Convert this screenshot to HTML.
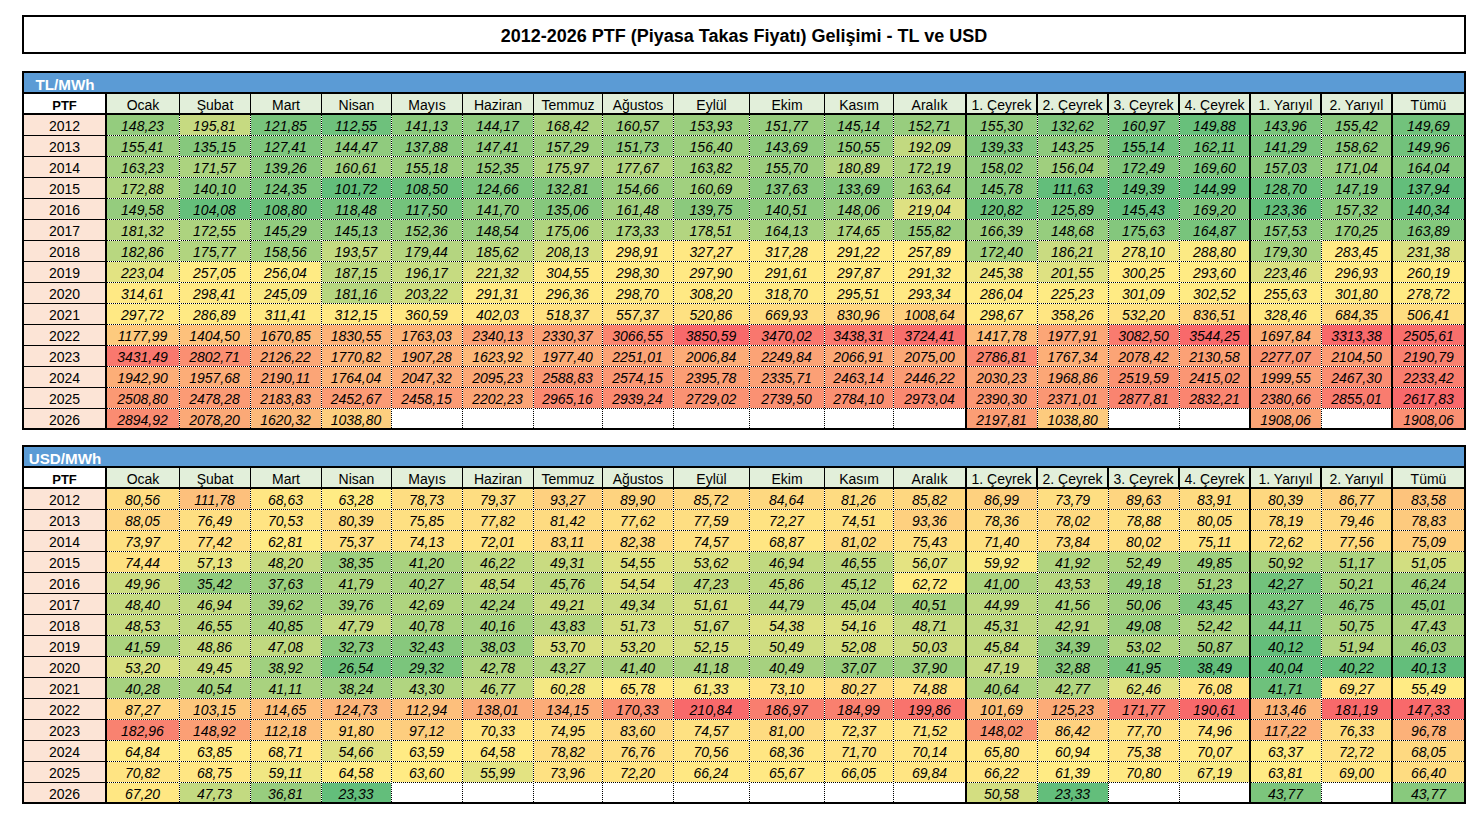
<!DOCTYPE html>
<html lang="tr"><head><meta charset="utf-8"><title>PTF</title><style>
html,body{margin:0;padding:0;background:#fff}
body{width:1482px;height:813px;position:relative;overflow:hidden;font-family:"Liberation Sans",sans-serif;color:#000}
div{position:absolute;box-sizing:border-box;white-space:nowrap;overflow:hidden}
.title{left:22px;top:15px;width:1444px;height:39px;border:2px solid #000;background:#fff;text-align:center;font-weight:bold;font-size:18px;line-height:35px}
.title span{position:relative;top:2px}
.bk{background:#000}
.band{background:#5B9BD5;color:#fff;font-weight:bold;font-size:15.2px;line-height:19px}
.band span{position:absolute;left:0;top:2px;width:82px;text-align:center}
.hc{background:#E2EFDA;text-align:center;font-size:14px;line-height:19px}
.hp{background:#fff;text-align:center;font-weight:bold;font-size:13px;line-height:19px}
.hc span,.hp span{position:relative;top:2px}
.yr{background:#FCE4D6;text-align:center;font-size:14px;line-height:20px}
.yr span{position:relative;top:1px}
.dc{text-align:center;font-style:italic;font-size:14px;line-height:20px}
.dc span{position:relative;top:1px;left:-1px}
.hd{height:1px;background:repeating-linear-gradient(90deg,#000 0 1px,#fff 1px 2px)}
.vd{width:1px;background:repeating-linear-gradient(180deg,#000 0 1px,#fff 1px 2px)}
.vt{width:2px;background:#000}
.ht{height:2px;background:#000}
</style></head>
<body>
<div class="title"><span>2012-2026 PTF (Piyasa Takas Fiyatı) Gelişimi - TL ve USD</span></div>
<div class="bk" style="left:22px;top:71px;width:1444px;height:359px"></div>
<div class="band" style="left:24px;top:73px;width:1440px;height:19px"><span>TL/MWh</span></div>
<div class="hp" style="left:24px;top:94px;width:81px;height:19px"><span>PTF</span></div>
<div class="hc" style="left:107px;top:94px;width:72px;height:19px"><span>Ocak</span></div>
<div class="hc" style="left:180px;top:94px;width:70px;height:19px"><span>Şubat</span></div>
<div class="hc" style="left:251px;top:94px;width:70px;height:19px"><span>Mart</span></div>
<div class="hc" style="left:322px;top:94px;width:69px;height:19px"><span>Nisan</span></div>
<div class="hc" style="left:392px;top:94px;width:70px;height:19px"><span>Mayıs</span></div>
<div class="hc" style="left:463px;top:94px;width:70px;height:19px"><span>Haziran</span></div>
<div class="hc" style="left:534px;top:94px;width:68px;height:19px"><span>Temmuz</span></div>
<div class="hc" style="left:603px;top:94px;width:70px;height:19px"><span>Ağustos</span></div>
<div class="hc" style="left:674px;top:94px;width:75px;height:19px"><span>Eylül</span></div>
<div class="hc" style="left:750px;top:94px;width:74px;height:19px"><span>Ekim</span></div>
<div class="hc" style="left:825px;top:94px;width:68px;height:19px"><span>Kasım</span></div>
<div class="hc" style="left:894px;top:94px;width:71px;height:19px"><span>Aralık</span></div>
<div class="hc" style="left:967px;top:94px;width:69px;height:19px"><span>1. Çeyrek</span></div>
<div class="hc" style="left:1038px;top:94px;width:69px;height:19px"><span>2. Çeyrek</span></div>
<div class="hc" style="left:1109px;top:94px;width:69px;height:19px"><span>3. Çeyrek</span></div>
<div class="hc" style="left:1180px;top:94px;width:69px;height:19px"><span>4. Çeyrek</span></div>
<div class="hc" style="left:1251px;top:94px;width:69px;height:19px"><span>1. Yarıyıl</span></div>
<div class="hc" style="left:1322px;top:94px;width:69px;height:19px"><span>2. Yarıyıl</span></div>
<div class="hc" style="left:1393px;top:94px;width:71px;height:19px"><span>Tümü</span></div>
<div class="yr" style="left:24px;top:115px;width:81px;height:20px"><span>2012</span></div>
<div class="dc" style="left:107px;top:115px;width:73px;height:21px;background:#94CC7E"><span>148,23</span></div>
<div class="dc" style="left:180px;top:115px;width:71px;height:21px;background:#C6DA81"><span>195,81</span></div>
<div class="dc" style="left:251px;top:115px;width:71px;height:21px;background:#78C47C"><span>121,85</span></div>
<div class="dc" style="left:322px;top:115px;width:70px;height:21px;background:#6EC17C"><span>112,55</span></div>
<div class="dc" style="left:392px;top:115px;width:71px;height:21px;background:#8CCA7D"><span>141,13</span></div>
<div class="dc" style="left:463px;top:115px;width:71px;height:21px;background:#8FCB7E"><span>144,17</span></div>
<div class="dc" style="left:534px;top:115px;width:69px;height:21px;background:#A9D27F"><span>168,42</span></div>
<div class="dc" style="left:603px;top:115px;width:71px;height:21px;background:#A1D07F"><span>160,57</span></div>
<div class="dc" style="left:674px;top:115px;width:76px;height:21px;background:#9ACE7E"><span>153,93</span></div>
<div class="dc" style="left:750px;top:115px;width:75px;height:21px;background:#97CD7E"><span>151,77</span></div>
<div class="dc" style="left:825px;top:115px;width:69px;height:21px;background:#91CB7E"><span>145,14</span></div>
<div class="dc" style="left:894px;top:115px;width:73px;height:21px;background:#98CD7E"><span>152,71</span></div>
<div class="dc" style="left:967px;top:115px;width:71px;height:21px;background:#90CB7E"><span>155,30</span></div>
<div class="dc" style="left:1038px;top:115px;width:71px;height:21px;background:#80C67D"><span>132,62</span></div>
<div class="dc" style="left:1109px;top:115px;width:71px;height:21px;background:#74C37C"><span>160,97</span></div>
<div class="dc" style="left:1180px;top:115px;width:71px;height:21px;background:#68C07B"><span>149,88</span></div>
<div class="dc" style="left:1251px;top:115px;width:71px;height:21px;background:#7BC57C"><span>143,96</span></div>
<div class="dc" style="left:1322px;top:115px;width:71px;height:21px;background:#89C97D"><span>155,42</span></div>
<div class="dc" style="left:1393px;top:115px;width:73px;height:21px;background:#72C27C"><span>149,69</span></div>
<div class="yr" style="left:24px;top:136px;width:81px;height:20px"><span>2013</span></div>
<div class="dc" style="left:107px;top:136px;width:73px;height:21px;background:#9BCE7E"><span>155,41</span></div>
<div class="dc" style="left:180px;top:136px;width:71px;height:21px;background:#86C87D"><span>135,15</span></div>
<div class="dc" style="left:251px;top:136px;width:71px;height:21px;background:#7EC67D"><span>127,41</span></div>
<div class="dc" style="left:322px;top:136px;width:70px;height:21px;background:#90CB7E"><span>144,47</span></div>
<div class="dc" style="left:392px;top:136px;width:71px;height:21px;background:#89C97D"><span>137,88</span></div>
<div class="dc" style="left:463px;top:136px;width:71px;height:21px;background:#93CC7E"><span>147,41</span></div>
<div class="dc" style="left:534px;top:136px;width:69px;height:21px;background:#9DCF7E"><span>157,29</span></div>
<div class="dc" style="left:603px;top:136px;width:71px;height:21px;background:#97CD7E"><span>151,73</span></div>
<div class="dc" style="left:674px;top:136px;width:76px;height:21px;background:#9CCF7E"><span>156,40</span></div>
<div class="dc" style="left:750px;top:136px;width:75px;height:21px;background:#8FCB7E"><span>143,69</span></div>
<div class="dc" style="left:825px;top:136px;width:69px;height:21px;background:#96CD7E"><span>150,55</span></div>
<div class="dc" style="left:894px;top:136px;width:73px;height:21px;background:#C2D980"><span>192,09</span></div>
<div class="dc" style="left:967px;top:136px;width:71px;height:21px;background:#80C67D"><span>139,33</span></div>
<div class="dc" style="left:1038px;top:136px;width:71px;height:21px;background:#8ECA7D"><span>143,25</span></div>
<div class="dc" style="left:1109px;top:136px;width:71px;height:21px;background:#6EC17C"><span>155,14</span></div>
<div class="dc" style="left:1180px;top:136px;width:71px;height:21px;background:#75C37C"><span>162,11</span></div>
<div class="dc" style="left:1251px;top:136px;width:71px;height:21px;background:#78C47C"><span>141,29</span></div>
<div class="dc" style="left:1322px;top:136px;width:71px;height:21px;background:#8DCA7D"><span>158,62</span></div>
<div class="dc" style="left:1393px;top:136px;width:73px;height:21px;background:#72C27C"><span>149,96</span></div>
<div class="yr" style="left:24px;top:157px;width:81px;height:20px"><span>2014</span></div>
<div class="dc" style="left:107px;top:157px;width:73px;height:21px;background:#A3D17F"><span>163,23</span></div>
<div class="dc" style="left:180px;top:157px;width:71px;height:21px;background:#ACD37F"><span>171,57</span></div>
<div class="dc" style="left:251px;top:157px;width:71px;height:21px;background:#8AC97D"><span>139,26</span></div>
<div class="dc" style="left:322px;top:157px;width:70px;height:21px;background:#A1D07F"><span>160,61</span></div>
<div class="dc" style="left:392px;top:157px;width:71px;height:21px;background:#9BCE7E"><span>155,18</span></div>
<div class="dc" style="left:463px;top:157px;width:71px;height:21px;background:#98CD7E"><span>152,35</span></div>
<div class="dc" style="left:534px;top:157px;width:69px;height:21px;background:#B1D47F"><span>175,97</span></div>
<div class="dc" style="left:603px;top:157px;width:71px;height:21px;background:#B3D580"><span>177,67</span></div>
<div class="dc" style="left:674px;top:157px;width:76px;height:21px;background:#A4D17F"><span>163,82</span></div>
<div class="dc" style="left:750px;top:157px;width:75px;height:21px;background:#9CCE7E"><span>155,70</span></div>
<div class="dc" style="left:825px;top:157px;width:69px;height:21px;background:#B6D680"><span>180,89</span></div>
<div class="dc" style="left:894px;top:157px;width:73px;height:21px;background:#ADD37F"><span>172,19</span></div>
<div class="dc" style="left:967px;top:157px;width:71px;height:21px;background:#93CC7E"><span>158,02</span></div>
<div class="dc" style="left:1038px;top:157px;width:71px;height:21px;background:#A0CF7E"><span>156,04</span></div>
<div class="dc" style="left:1109px;top:157px;width:71px;height:21px;background:#80C67D"><span>172,49</span></div>
<div class="dc" style="left:1180px;top:157px;width:71px;height:21px;background:#7DC67D"><span>169,60</span></div>
<div class="dc" style="left:1251px;top:157px;width:71px;height:21px;background:#8BC97D"><span>157,03</span></div>
<div class="dc" style="left:1322px;top:157px;width:71px;height:21px;background:#9BCE7E"><span>171,04</span></div>
<div class="dc" style="left:1393px;top:157px;width:73px;height:21px;background:#84C87D"><span>164,04</span></div>
<div class="yr" style="left:24px;top:178px;width:81px;height:20px"><span>2015</span></div>
<div class="dc" style="left:107px;top:178px;width:73px;height:21px;background:#AED47F"><span>172,88</span></div>
<div class="dc" style="left:180px;top:178px;width:71px;height:21px;background:#8BCA7D"><span>140,10</span></div>
<div class="dc" style="left:251px;top:178px;width:71px;height:21px;background:#7BC57C"><span>124,35</span></div>
<div class="dc" style="left:322px;top:178px;width:70px;height:21px;background:#63BE7B"><span>101,72</span></div>
<div class="dc" style="left:392px;top:178px;width:71px;height:21px;background:#6AC07B"><span>108,50</span></div>
<div class="dc" style="left:463px;top:178px;width:71px;height:21px;background:#7BC57C"><span>124,66</span></div>
<div class="dc" style="left:534px;top:178px;width:69px;height:21px;background:#84C77D"><span>132,81</span></div>
<div class="dc" style="left:603px;top:178px;width:71px;height:21px;background:#9ACE7E"><span>154,66</span></div>
<div class="dc" style="left:674px;top:178px;width:76px;height:21px;background:#A1D07F"><span>160,69</span></div>
<div class="dc" style="left:750px;top:178px;width:75px;height:21px;background:#89C97D"><span>137,63</span></div>
<div class="dc" style="left:825px;top:178px;width:69px;height:21px;background:#85C87D"><span>133,69</span></div>
<div class="dc" style="left:894px;top:178px;width:73px;height:21px;background:#A4D17F"><span>163,64</span></div>
<div class="dc" style="left:967px;top:178px;width:71px;height:21px;background:#86C87D"><span>145,78</span></div>
<div class="dc" style="left:1038px;top:178px;width:71px;height:21px;background:#63BE7B"><span>111,63</span></div>
<div class="dc" style="left:1109px;top:178px;width:71px;height:21px;background:#68BF7B"><span>149,39</span></div>
<div class="dc" style="left:1180px;top:178px;width:71px;height:21px;background:#63BE7B"><span>144,99</span></div>
<div class="dc" style="left:1251px;top:178px;width:71px;height:21px;background:#69C07B"><span>128,70</span></div>
<div class="dc" style="left:1322px;top:178px;width:71px;height:21px;background:#7FC67D"><span>147,19</span></div>
<div class="dc" style="left:1393px;top:178px;width:73px;height:21px;background:#63BE7B"><span>137,94</span></div>
<div class="yr" style="left:24px;top:199px;width:81px;height:20px"><span>2016</span></div>
<div class="dc" style="left:107px;top:199px;width:73px;height:21px;background:#95CC7E"><span>149,58</span></div>
<div class="dc" style="left:180px;top:199px;width:71px;height:21px;background:#65BF7B"><span>104,08</span></div>
<div class="dc" style="left:251px;top:199px;width:71px;height:21px;background:#6AC07B"><span>108,80</span></div>
<div class="dc" style="left:322px;top:199px;width:70px;height:21px;background:#75C37C"><span>118,48</span></div>
<div class="dc" style="left:392px;top:199px;width:71px;height:21px;background:#74C37C"><span>117,50</span></div>
<div class="dc" style="left:463px;top:199px;width:71px;height:21px;background:#8DCA7D"><span>141,70</span></div>
<div class="dc" style="left:534px;top:199px;width:69px;height:21px;background:#86C87D"><span>135,06</span></div>
<div class="dc" style="left:603px;top:199px;width:71px;height:21px;background:#A2D07F"><span>161,48</span></div>
<div class="dc" style="left:674px;top:199px;width:76px;height:21px;background:#8BC97D"><span>139,75</span></div>
<div class="dc" style="left:750px;top:199px;width:75px;height:21px;background:#8CCA7D"><span>140,51</span></div>
<div class="dc" style="left:825px;top:199px;width:69px;height:21px;background:#94CC7E"><span>148,06</span></div>
<div class="dc" style="left:894px;top:199px;width:73px;height:21px;background:#DEE182"><span>219,04</span></div>
<div class="dc" style="left:967px;top:199px;width:71px;height:21px;background:#6DC17C"><span>120,82</span></div>
<div class="dc" style="left:1038px;top:199px;width:71px;height:21px;background:#76C47C"><span>125,89</span></div>
<div class="dc" style="left:1109px;top:199px;width:71px;height:21px;background:#63BE7B"><span>145,43</span></div>
<div class="dc" style="left:1180px;top:199px;width:71px;height:21px;background:#7DC57C"><span>169,20</span></div>
<div class="dc" style="left:1251px;top:199px;width:71px;height:21px;background:#63BE7B"><span>123,36</span></div>
<div class="dc" style="left:1322px;top:199px;width:71px;height:21px;background:#8BCA7D"><span>157,32</span></div>
<div class="dc" style="left:1393px;top:199px;width:73px;height:21px;background:#66BF7B"><span>140,34</span></div>
<div class="yr" style="left:24px;top:220px;width:81px;height:20px"><span>2017</span></div>
<div class="dc" style="left:107px;top:220px;width:73px;height:21px;background:#B6D680"><span>181,32</span></div>
<div class="dc" style="left:180px;top:220px;width:71px;height:21px;background:#ADD37F"><span>172,55</span></div>
<div class="dc" style="left:251px;top:220px;width:71px;height:21px;background:#91CB7E"><span>145,29</span></div>
<div class="dc" style="left:322px;top:220px;width:70px;height:21px;background:#90CB7E"><span>145,13</span></div>
<div class="dc" style="left:392px;top:220px;width:71px;height:21px;background:#98CD7E"><span>152,36</span></div>
<div class="dc" style="left:463px;top:220px;width:71px;height:21px;background:#94CC7E"><span>148,54</span></div>
<div class="dc" style="left:534px;top:220px;width:69px;height:21px;background:#B0D47F"><span>175,06</span></div>
<div class="dc" style="left:603px;top:220px;width:71px;height:21px;background:#AED47F"><span>173,33</span></div>
<div class="dc" style="left:674px;top:220px;width:76px;height:21px;background:#B3D580"><span>178,51</span></div>
<div class="dc" style="left:750px;top:220px;width:75px;height:21px;background:#A4D17F"><span>164,13</span></div>
<div class="dc" style="left:825px;top:220px;width:69px;height:21px;background:#AFD47F"><span>174,65</span></div>
<div class="dc" style="left:894px;top:220px;width:73px;height:21px;background:#9CCE7E"><span>155,82</span></div>
<div class="dc" style="left:967px;top:220px;width:71px;height:21px;background:#9CCE7E"><span>166,39</span></div>
<div class="dc" style="left:1038px;top:220px;width:71px;height:21px;background:#96CD7E"><span>148,68</span></div>
<div class="dc" style="left:1109px;top:220px;width:71px;height:21px;background:#84C77D"><span>175,63</span></div>
<div class="dc" style="left:1180px;top:220px;width:71px;height:21px;background:#78C47C"><span>164,87</span></div>
<div class="dc" style="left:1251px;top:220px;width:71px;height:21px;background:#8BCA7D"><span>157,53</span></div>
<div class="dc" style="left:1322px;top:220px;width:71px;height:21px;background:#9ACE7E"><span>170,25</span></div>
<div class="dc" style="left:1393px;top:220px;width:73px;height:21px;background:#84C87D"><span>163,89</span></div>
<div class="yr" style="left:24px;top:241px;width:81px;height:20px"><span>2018</span></div>
<div class="dc" style="left:107px;top:241px;width:73px;height:21px;background:#B8D780"><span>182,86</span></div>
<div class="dc" style="left:180px;top:241px;width:71px;height:21px;background:#B1D47F"><span>175,77</span></div>
<div class="dc" style="left:251px;top:241px;width:71px;height:21px;background:#9FCF7E"><span>158,56</span></div>
<div class="dc" style="left:322px;top:241px;width:70px;height:21px;background:#C3DA81"><span>193,57</span></div>
<div class="dc" style="left:392px;top:241px;width:71px;height:21px;background:#B4D580"><span>179,44</span></div>
<div class="dc" style="left:463px;top:241px;width:71px;height:21px;background:#BBD780"><span>185,62</span></div>
<div class="dc" style="left:534px;top:241px;width:69px;height:21px;background:#D3DE81"><span>208,13</span></div>
<div class="dc" style="left:603px;top:241px;width:71px;height:21px;background:#FFE984"><span>298,91</span></div>
<div class="dc" style="left:674px;top:241px;width:76px;height:21px;background:#FFE883"><span>327,27</span></div>
<div class="dc" style="left:750px;top:241px;width:75px;height:21px;background:#FFE984"><span>317,28</span></div>
<div class="dc" style="left:825px;top:241px;width:69px;height:21px;background:#FFEA84"><span>291,22</span></div>
<div class="dc" style="left:894px;top:241px;width:73px;height:21px;background:#FFEB84"><span>257,89</span></div>
<div class="dc" style="left:967px;top:241px;width:71px;height:21px;background:#A2D07F"><span>172,40</span></div>
<div class="dc" style="left:1038px;top:241px;width:71px;height:21px;background:#C9DB81"><span>186,21</span></div>
<div class="dc" style="left:1109px;top:241px;width:71px;height:21px;background:#F1E783"><span>278,10</span></div>
<div class="dc" style="left:1180px;top:241px;width:71px;height:21px;background:#FCEA84"><span>288,80</span></div>
<div class="dc" style="left:1251px;top:241px;width:71px;height:21px;background:#A5D17F"><span>179,30</span></div>
<div class="dc" style="left:1322px;top:241px;width:71px;height:21px;background:#FFEA84"><span>283,45</span></div>
<div class="dc" style="left:1393px;top:241px;width:73px;height:21px;background:#DAE082"><span>231,38</span></div>
<div class="yr" style="left:24px;top:262px;width:81px;height:20px"><span>2019</span></div>
<div class="dc" style="left:107px;top:262px;width:73px;height:21px;background:#E2E382"><span>223,04</span></div>
<div class="dc" style="left:180px;top:262px;width:71px;height:21px;background:#FFEB84"><span>257,05</span></div>
<div class="dc" style="left:251px;top:262px;width:71px;height:21px;background:#FFEB84"><span>256,04</span></div>
<div class="dc" style="left:322px;top:262px;width:70px;height:21px;background:#BDD880"><span>187,15</span></div>
<div class="dc" style="left:392px;top:262px;width:71px;height:21px;background:#C6DB81"><span>196,17</span></div>
<div class="dc" style="left:463px;top:262px;width:71px;height:21px;background:#E0E282"><span>221,32</span></div>
<div class="dc" style="left:534px;top:262px;width:69px;height:21px;background:#FFE984"><span>304,55</span></div>
<div class="dc" style="left:603px;top:262px;width:71px;height:21px;background:#FFE984"><span>298,30</span></div>
<div class="dc" style="left:674px;top:262px;width:76px;height:21px;background:#FFE984"><span>297,90</span></div>
<div class="dc" style="left:750px;top:262px;width:75px;height:21px;background:#FFEA84"><span>291,61</span></div>
<div class="dc" style="left:825px;top:262px;width:69px;height:21px;background:#FFE984"><span>297,87</span></div>
<div class="dc" style="left:894px;top:262px;width:73px;height:21px;background:#FFEA84"><span>291,32</span></div>
<div class="dc" style="left:967px;top:262px;width:71px;height:21px;background:#EEE683"><span>245,38</span></div>
<div class="dc" style="left:1038px;top:262px;width:71px;height:21px;background:#DEE182"><span>201,55</span></div>
<div class="dc" style="left:1109px;top:262px;width:71px;height:21px;background:#FFEB84"><span>300,25</span></div>
<div class="dc" style="left:1180px;top:262px;width:71px;height:21px;background:#FFEB84"><span>293,60</span></div>
<div class="dc" style="left:1251px;top:262px;width:71px;height:21px;background:#D9E082"><span>223,46</span></div>
<div class="dc" style="left:1322px;top:262px;width:71px;height:21px;background:#FFE984"><span>296,93</span></div>
<div class="dc" style="left:1393px;top:262px;width:73px;height:21px;background:#FFEB84"><span>260,19</span></div>
<div class="yr" style="left:24px;top:283px;width:81px;height:20px"><span>2020</span></div>
<div class="dc" style="left:107px;top:283px;width:73px;height:21px;background:#FFE984"><span>314,61</span></div>
<div class="dc" style="left:180px;top:283px;width:71px;height:21px;background:#FFE984"><span>298,41</span></div>
<div class="dc" style="left:251px;top:283px;width:71px;height:21px;background:#F9E984"><span>245,09</span></div>
<div class="dc" style="left:322px;top:283px;width:70px;height:21px;background:#B6D680"><span>181,16</span></div>
<div class="dc" style="left:392px;top:283px;width:71px;height:21px;background:#CDDD81"><span>203,22</span></div>
<div class="dc" style="left:463px;top:283px;width:71px;height:21px;background:#FFEA84"><span>291,31</span></div>
<div class="dc" style="left:534px;top:283px;width:69px;height:21px;background:#FFE984"><span>296,36</span></div>
<div class="dc" style="left:603px;top:283px;width:71px;height:21px;background:#FFE984"><span>298,70</span></div>
<div class="dc" style="left:674px;top:283px;width:76px;height:21px;background:#FFE984"><span>308,20</span></div>
<div class="dc" style="left:750px;top:283px;width:75px;height:21px;background:#FFE984"><span>318,70</span></div>
<div class="dc" style="left:825px;top:283px;width:69px;height:21px;background:#FFE984"><span>295,51</span></div>
<div class="dc" style="left:894px;top:283px;width:73px;height:21px;background:#FFE984"><span>293,34</span></div>
<div class="dc" style="left:967px;top:283px;width:71px;height:21px;background:#FFEA84"><span>286,04</span></div>
<div class="dc" style="left:1038px;top:283px;width:71px;height:21px;background:#FEEB84"><span>225,23</span></div>
<div class="dc" style="left:1109px;top:283px;width:71px;height:21px;background:#FFEB84"><span>301,09</span></div>
<div class="dc" style="left:1180px;top:283px;width:71px;height:21px;background:#FFEB84"><span>302,52</span></div>
<div class="dc" style="left:1251px;top:283px;width:71px;height:21px;background:#FFEB84"><span>255,63</span></div>
<div class="dc" style="left:1322px;top:283px;width:71px;height:21px;background:#FFE984"><span>301,80</span></div>
<div class="dc" style="left:1393px;top:283px;width:73px;height:21px;background:#FFEA84"><span>278,72</span></div>
<div class="yr" style="left:24px;top:304px;width:81px;height:20px"><span>2021</span></div>
<div class="dc" style="left:107px;top:304px;width:73px;height:21px;background:#FFE984"><span>297,72</span></div>
<div class="dc" style="left:180px;top:304px;width:71px;height:21px;background:#FFEA84"><span>286,89</span></div>
<div class="dc" style="left:251px;top:304px;width:71px;height:21px;background:#FFE984"><span>311,41</span></div>
<div class="dc" style="left:322px;top:304px;width:70px;height:21px;background:#FFE984"><span>312,15</span></div>
<div class="dc" style="left:392px;top:304px;width:71px;height:21px;background:#FFE783"><span>360,59</span></div>
<div class="dc" style="left:463px;top:304px;width:71px;height:21px;background:#FFE683"><span>402,03</span></div>
<div class="dc" style="left:534px;top:304px;width:69px;height:21px;background:#FEE182"><span>518,37</span></div>
<div class="dc" style="left:603px;top:304px;width:71px;height:21px;background:#FEE082"><span>557,37</span></div>
<div class="dc" style="left:674px;top:304px;width:76px;height:21px;background:#FEE182"><span>520,86</span></div>
<div class="dc" style="left:750px;top:304px;width:75px;height:21px;background:#FEDC81"><span>669,93</span></div>
<div class="dc" style="left:825px;top:304px;width:69px;height:21px;background:#FED680"><span>830,96</span></div>
<div class="dc" style="left:894px;top:304px;width:73px;height:21px;background:#FED07F"><span>1008,64</span></div>
<div class="dc" style="left:967px;top:304px;width:71px;height:21px;background:#FFEA84"><span>298,67</span></div>
<div class="dc" style="left:1038px;top:304px;width:71px;height:21px;background:#FFE683"><span>358,26</span></div>
<div class="dc" style="left:1109px;top:304px;width:71px;height:21px;background:#FEE182"><span>532,20</span></div>
<div class="dc" style="left:1180px;top:304px;width:71px;height:21px;background:#FED580"><span>836,51</span></div>
<div class="dc" style="left:1251px;top:304px;width:71px;height:21px;background:#FFE883"><span>328,46</span></div>
<div class="dc" style="left:1322px;top:304px;width:71px;height:21px;background:#FED980"><span>684,35</span></div>
<div class="dc" style="left:1393px;top:304px;width:73px;height:21px;background:#FEDD81"><span>506,41</span></div>
<div class="yr" style="left:24px;top:325px;width:81px;height:20px"><span>2022</span></div>
<div class="dc" style="left:107px;top:325px;width:73px;height:21px;background:#FDCA7E"><span>1177,99</span></div>
<div class="dc" style="left:180px;top:325px;width:71px;height:21px;background:#FDC17C"><span>1404,50</span></div>
<div class="dc" style="left:251px;top:325px;width:71px;height:21px;background:#FCB87A"><span>1670,85</span></div>
<div class="dc" style="left:322px;top:325px;width:70px;height:21px;background:#FCB279"><span>1830,55</span></div>
<div class="dc" style="left:392px;top:325px;width:71px;height:21px;background:#FCB479"><span>1763,03</span></div>
<div class="dc" style="left:463px;top:325px;width:71px;height:21px;background:#FBA075"><span>2340,13</span></div>
<div class="dc" style="left:534px;top:325px;width:69px;height:21px;background:#FBA076"><span>2330,37</span></div>
<div class="dc" style="left:603px;top:325px;width:71px;height:21px;background:#FA8570"><span>3066,55</span></div>
<div class="dc" style="left:674px;top:325px;width:76px;height:21px;background:#F8696B"><span>3850,59</span></div>
<div class="dc" style="left:750px;top:325px;width:75px;height:21px;background:#F9776E"><span>3470,02</span></div>
<div class="dc" style="left:825px;top:325px;width:69px;height:21px;background:#F9786E"><span>3438,31</span></div>
<div class="dc" style="left:894px;top:325px;width:73px;height:21px;background:#F86E6C"><span>3724,41</span></div>
<div class="dc" style="left:967px;top:325px;width:71px;height:21px;background:#FDBD7B"><span>1417,78</span></div>
<div class="dc" style="left:1038px;top:325px;width:71px;height:21px;background:#FBA677"><span>1977,91</span></div>
<div class="dc" style="left:1109px;top:325px;width:71px;height:21px;background:#F97B6F"><span>3082,50</span></div>
<div class="dc" style="left:1180px;top:325px;width:71px;height:21px;background:#F8696B"><span>3544,25</span></div>
<div class="dc" style="left:1251px;top:325px;width:71px;height:21px;background:#FCAE78"><span>1697,84</span></div>
<div class="dc" style="left:1322px;top:325px;width:71px;height:21px;background:#F8696B"><span>3313,38</span></div>
<div class="dc" style="left:1393px;top:325px;width:73px;height:21px;background:#F86F6C"><span>2505,61</span></div>
<div class="yr" style="left:24px;top:346px;width:81px;height:20px"><span>2023</span></div>
<div class="dc" style="left:107px;top:346px;width:73px;height:21px;background:#F9786E"><span>3431,49</span></div>
<div class="dc" style="left:180px;top:346px;width:71px;height:21px;background:#FA8F72"><span>2802,71</span></div>
<div class="dc" style="left:251px;top:346px;width:71px;height:21px;background:#FBA777"><span>2126,22</span></div>
<div class="dc" style="left:322px;top:346px;width:70px;height:21px;background:#FCB479"><span>1770,82</span></div>
<div class="dc" style="left:392px;top:346px;width:71px;height:21px;background:#FCAF78"><span>1907,28</span></div>
<div class="dc" style="left:463px;top:346px;width:71px;height:21px;background:#FCB97A"><span>1623,92</span></div>
<div class="dc" style="left:534px;top:346px;width:69px;height:21px;background:#FCAD78"><span>1977,40</span></div>
<div class="dc" style="left:603px;top:346px;width:71px;height:21px;background:#FBA376"><span>2251,01</span></div>
<div class="dc" style="left:674px;top:346px;width:76px;height:21px;background:#FCAC78"><span>2006,84</span></div>
<div class="dc" style="left:750px;top:346px;width:75px;height:21px;background:#FBA376"><span>2249,84</span></div>
<div class="dc" style="left:825px;top:346px;width:69px;height:21px;background:#FBA977"><span>2066,91</span></div>
<div class="dc" style="left:894px;top:346px;width:73px;height:21px;background:#FBA977"><span>2075,00</span></div>
<div class="dc" style="left:967px;top:346px;width:71px;height:21px;background:#FA8771"><span>2786,81</span></div>
<div class="dc" style="left:1038px;top:346px;width:71px;height:21px;background:#FCAF78"><span>1767,34</span></div>
<div class="dc" style="left:1109px;top:346px;width:71px;height:21px;background:#FBA476"><span>2078,42</span></div>
<div class="dc" style="left:1180px;top:346px;width:71px;height:21px;background:#FBA176"><span>2130,58</span></div>
<div class="dc" style="left:1251px;top:346px;width:71px;height:21px;background:#FA9573"><span>2277,07</span></div>
<div class="dc" style="left:1322px;top:346px;width:71px;height:21px;background:#FB9C75"><span>2104,50</span></div>
<div class="dc" style="left:1393px;top:346px;width:73px;height:21px;background:#F98170"><span>2190,79</span></div>
<div class="yr" style="left:24px;top:367px;width:81px;height:20px"><span>2024</span></div>
<div class="dc" style="left:107px;top:367px;width:73px;height:21px;background:#FCAE78"><span>1942,90</span></div>
<div class="dc" style="left:180px;top:367px;width:71px;height:21px;background:#FCAD78"><span>1957,68</span></div>
<div class="dc" style="left:251px;top:367px;width:71px;height:21px;background:#FBA577"><span>2190,11</span></div>
<div class="dc" style="left:322px;top:367px;width:70px;height:21px;background:#FCB479"><span>1764,04</span></div>
<div class="dc" style="left:392px;top:367px;width:71px;height:21px;background:#FCAA78"><span>2047,32</span></div>
<div class="dc" style="left:463px;top:367px;width:71px;height:21px;background:#FBA877"><span>2095,23</span></div>
<div class="dc" style="left:534px;top:367px;width:69px;height:21px;background:#FA9774"><span>2588,83</span></div>
<div class="dc" style="left:603px;top:367px;width:71px;height:21px;background:#FA9774"><span>2574,15</span></div>
<div class="dc" style="left:674px;top:367px;width:76px;height:21px;background:#FB9E75"><span>2395,78</span></div>
<div class="dc" style="left:750px;top:367px;width:75px;height:21px;background:#FBA076"><span>2335,71</span></div>
<div class="dc" style="left:825px;top:367px;width:69px;height:21px;background:#FB9B75"><span>2463,14</span></div>
<div class="dc" style="left:894px;top:367px;width:73px;height:21px;background:#FB9C75"><span>2446,22</span></div>
<div class="dc" style="left:967px;top:367px;width:71px;height:21px;background:#FBA577"><span>2030,23</span></div>
<div class="dc" style="left:1038px;top:367px;width:71px;height:21px;background:#FBA777"><span>1968,86</span></div>
<div class="dc" style="left:1109px;top:367px;width:71px;height:21px;background:#FA9273"><span>2519,59</span></div>
<div class="dc" style="left:1180px;top:367px;width:71px;height:21px;background:#FA9674"><span>2415,02</span></div>
<div class="dc" style="left:1251px;top:367px;width:71px;height:21px;background:#FBA176"><span>1999,55</span></div>
<div class="dc" style="left:1322px;top:367px;width:71px;height:21px;background:#FA8D72"><span>2467,30</span></div>
<div class="dc" style="left:1393px;top:367px;width:73px;height:21px;background:#F97E6F"><span>2233,42</span></div>
<div class="yr" style="left:24px;top:388px;width:81px;height:20px"><span>2025</span></div>
<div class="dc" style="left:107px;top:388px;width:73px;height:21px;background:#FB9974"><span>2508,80</span></div>
<div class="dc" style="left:180px;top:388px;width:71px;height:21px;background:#FB9B75"><span>2478,28</span></div>
<div class="dc" style="left:251px;top:388px;width:71px;height:21px;background:#FBA577"><span>2183,83</span></div>
<div class="dc" style="left:322px;top:388px;width:70px;height:21px;background:#FB9B75"><span>2452,67</span></div>
<div class="dc" style="left:392px;top:388px;width:71px;height:21px;background:#FB9B75"><span>2458,15</span></div>
<div class="dc" style="left:463px;top:388px;width:71px;height:21px;background:#FBA576"><span>2202,23</span></div>
<div class="dc" style="left:534px;top:388px;width:69px;height:21px;background:#FA8971"><span>2965,16</span></div>
<div class="dc" style="left:603px;top:388px;width:71px;height:21px;background:#FA8A71"><span>2939,24</span></div>
<div class="dc" style="left:674px;top:388px;width:76px;height:21px;background:#FA9273"><span>2729,02</span></div>
<div class="dc" style="left:750px;top:388px;width:75px;height:21px;background:#FA9173"><span>2739,50</span></div>
<div class="dc" style="left:825px;top:388px;width:69px;height:21px;background:#FA9072"><span>2784,10</span></div>
<div class="dc" style="left:894px;top:388px;width:73px;height:21px;background:#FA8971"><span>2973,04</span></div>
<div class="dc" style="left:967px;top:388px;width:71px;height:21px;background:#FA9774"><span>2390,30</span></div>
<div class="dc" style="left:1038px;top:388px;width:71px;height:21px;background:#FA9774"><span>2371,01</span></div>
<div class="dc" style="left:1109px;top:388px;width:71px;height:21px;background:#F98470"><span>2877,81</span></div>
<div class="dc" style="left:1180px;top:388px;width:71px;height:21px;background:#FA8570"><span>2832,21</span></div>
<div class="dc" style="left:1251px;top:388px;width:71px;height:21px;background:#FA9173"><span>2380,66</span></div>
<div class="dc" style="left:1322px;top:388px;width:71px;height:21px;background:#F97C6F"><span>2855,01</span></div>
<div class="dc" style="left:1393px;top:388px;width:73px;height:21px;background:#F8696B"><span>2617,83</span></div>
<div class="yr" style="left:24px;top:409px;width:81px;height:19px"><span>2026</span></div>
<div class="dc" style="left:107px;top:409px;width:73px;height:21px;background:#FA8C72"><span>2894,92</span></div>
<div class="dc" style="left:180px;top:409px;width:71px;height:21px;background:#FBA977"><span>2078,20</span></div>
<div class="dc" style="left:251px;top:409px;width:71px;height:21px;background:#FCBA7A"><span>1620,32</span></div>
<div class="dc" style="left:322px;top:409px;width:70px;height:21px;background:#FDCF7F"><span>1038,80</span></div>
<div class="dc" style="left:392px;top:409px;width:71px;height:21px;background:#FFFFFF"></div>
<div class="dc" style="left:463px;top:409px;width:71px;height:21px;background:#FFFFFF"></div>
<div class="dc" style="left:534px;top:409px;width:69px;height:21px;background:#FFFFFF"></div>
<div class="dc" style="left:603px;top:409px;width:71px;height:21px;background:#FFFFFF"></div>
<div class="dc" style="left:674px;top:409px;width:76px;height:21px;background:#FFFFFF"></div>
<div class="dc" style="left:750px;top:409px;width:75px;height:21px;background:#FFFFFF"></div>
<div class="dc" style="left:825px;top:409px;width:69px;height:21px;background:#FFFFFF"></div>
<div class="dc" style="left:894px;top:409px;width:73px;height:21px;background:#FFFFFF"></div>
<div class="dc" style="left:967px;top:409px;width:71px;height:21px;background:#FB9E75"><span>2197,81</span></div>
<div class="dc" style="left:1038px;top:409px;width:71px;height:21px;background:#FDCB7E"><span>1038,80</span></div>
<div class="dc" style="left:1109px;top:409px;width:71px;height:21px;background:#FFFFFF"></div>
<div class="dc" style="left:1180px;top:409px;width:71px;height:21px;background:#FFFFFF"></div>
<div class="dc" style="left:1251px;top:409px;width:71px;height:21px;background:#FBA576"><span>1908,06</span></div>
<div class="dc" style="left:1322px;top:409px;width:71px;height:21px;background:#FFFFFF"></div>
<div class="dc" style="left:1393px;top:409px;width:73px;height:21px;background:#FA9073"><span>1908,06</span></div>
<div class="hd" style="left:107px;top:135px;width:1357px"></div>
<div class="hd" style="left:107px;top:156px;width:1357px"></div>
<div class="hd" style="left:107px;top:177px;width:1357px"></div>
<div class="hd" style="left:107px;top:198px;width:1357px"></div>
<div class="hd" style="left:107px;top:219px;width:1357px"></div>
<div class="hd" style="left:107px;top:240px;width:1357px"></div>
<div class="hd" style="left:107px;top:261px;width:1357px"></div>
<div class="hd" style="left:107px;top:282px;width:1357px"></div>
<div class="hd" style="left:107px;top:303px;width:1357px"></div>
<div class="hd" style="left:107px;top:324px;width:1357px"></div>
<div class="hd" style="left:107px;top:345px;width:1357px"></div>
<div class="hd" style="left:107px;top:366px;width:1357px"></div>
<div class="hd" style="left:107px;top:387px;width:1357px"></div>
<div class="hd" style="left:107px;top:408px;width:1357px"></div>
<div class="vd" style="left:179px;top:115px;height:313px"></div>
<div class="vd" style="left:250px;top:115px;height:313px"></div>
<div class="vd" style="left:321px;top:115px;height:313px"></div>
<div class="vd" style="left:391px;top:115px;height:313px"></div>
<div class="vd" style="left:462px;top:115px;height:313px"></div>
<div class="vd" style="left:533px;top:115px;height:313px"></div>
<div class="vd" style="left:602px;top:115px;height:313px"></div>
<div class="vd" style="left:673px;top:115px;height:313px"></div>
<div class="vd" style="left:749px;top:115px;height:313px"></div>
<div class="vd" style="left:824px;top:115px;height:313px"></div>
<div class="vd" style="left:893px;top:115px;height:313px"></div>
<div class="vt" style="left:965px;top:115px;height:313px"></div>
<div class="vd" style="left:1037px;top:115px;height:313px"></div>
<div class="vd" style="left:1108px;top:115px;height:313px"></div>
<div class="vd" style="left:1179px;top:115px;height:313px"></div>
<div class="vt" style="left:1249px;top:115px;height:313px"></div>
<div class="vd" style="left:1321px;top:115px;height:313px"></div>
<div class="vt" style="left:1391px;top:115px;height:313px"></div>
<div class="vt" style="left:1464px;top:115px;height:313px"></div>
<div class="ht" style="left:22px;top:428px;width:1444px"></div>
<div class="bk" style="left:22px;top:445px;width:1444px;height:359px"></div>
<div class="band" style="left:24px;top:447px;width:1440px;height:19px"><span>USD/MWh</span></div>
<div class="hp" style="left:24px;top:468px;width:81px;height:19px"><span>PTF</span></div>
<div class="hc" style="left:107px;top:468px;width:72px;height:19px"><span>Ocak</span></div>
<div class="hc" style="left:180px;top:468px;width:70px;height:19px"><span>Şubat</span></div>
<div class="hc" style="left:251px;top:468px;width:70px;height:19px"><span>Mart</span></div>
<div class="hc" style="left:322px;top:468px;width:69px;height:19px"><span>Nisan</span></div>
<div class="hc" style="left:392px;top:468px;width:70px;height:19px"><span>Mayıs</span></div>
<div class="hc" style="left:463px;top:468px;width:70px;height:19px"><span>Haziran</span></div>
<div class="hc" style="left:534px;top:468px;width:68px;height:19px"><span>Temmuz</span></div>
<div class="hc" style="left:603px;top:468px;width:70px;height:19px"><span>Ağustos</span></div>
<div class="hc" style="left:674px;top:468px;width:75px;height:19px"><span>Eylül</span></div>
<div class="hc" style="left:750px;top:468px;width:74px;height:19px"><span>Ekim</span></div>
<div class="hc" style="left:825px;top:468px;width:68px;height:19px"><span>Kasım</span></div>
<div class="hc" style="left:894px;top:468px;width:71px;height:19px"><span>Aralık</span></div>
<div class="hc" style="left:967px;top:468px;width:69px;height:19px"><span>1. Çeyrek</span></div>
<div class="hc" style="left:1038px;top:468px;width:69px;height:19px"><span>2. Çeyrek</span></div>
<div class="hc" style="left:1109px;top:468px;width:69px;height:19px"><span>3. Çeyrek</span></div>
<div class="hc" style="left:1180px;top:468px;width:69px;height:19px"><span>4. Çeyrek</span></div>
<div class="hc" style="left:1251px;top:468px;width:69px;height:19px"><span>1. Yarıyıl</span></div>
<div class="hc" style="left:1322px;top:468px;width:69px;height:19px"><span>2. Yarıyıl</span></div>
<div class="hc" style="left:1393px;top:468px;width:71px;height:19px"><span>Tümü</span></div>
<div class="yr" style="left:24px;top:489px;width:81px;height:20px"><span>2012</span></div>
<div class="dc" style="left:107px;top:489px;width:73px;height:21px;background:#FEDC81"><span>80,56</span></div>
<div class="dc" style="left:180px;top:489px;width:71px;height:21px;background:#FDC07C"><span>111,78</span></div>
<div class="dc" style="left:251px;top:489px;width:71px;height:21px;background:#FFE683"><span>68,63</span></div>
<div class="dc" style="left:322px;top:489px;width:70px;height:21px;background:#FFEB84"><span>63,28</span></div>
<div class="dc" style="left:392px;top:489px;width:71px;height:21px;background:#FEDD81"><span>78,73</span></div>
<div class="dc" style="left:463px;top:489px;width:71px;height:21px;background:#FEDD81"><span>79,37</span></div>
<div class="dc" style="left:534px;top:489px;width:69px;height:21px;background:#FED07F"><span>93,27</span></div>
<div class="dc" style="left:603px;top:489px;width:71px;height:21px;background:#FED37F"><span>89,90</span></div>
<div class="dc" style="left:674px;top:489px;width:76px;height:21px;background:#FED780"><span>85,72</span></div>
<div class="dc" style="left:750px;top:489px;width:75px;height:21px;background:#FED880"><span>84,64</span></div>
<div class="dc" style="left:825px;top:489px;width:69px;height:21px;background:#FEDB81"><span>81,26</span></div>
<div class="dc" style="left:894px;top:489px;width:73px;height:21px;background:#FED780"><span>85,82</span></div>
<div class="dc" style="left:967px;top:489px;width:71px;height:21px;background:#FED17F"><span>86,99</span></div>
<div class="dc" style="left:1038px;top:489px;width:71px;height:21px;background:#FEDE82"><span>73,79</span></div>
<div class="dc" style="left:1109px;top:489px;width:71px;height:21px;background:#FED580"><span>89,63</span></div>
<div class="dc" style="left:1180px;top:489px;width:71px;height:21px;background:#FEDB81"><span>83,91</span></div>
<div class="dc" style="left:1251px;top:489px;width:71px;height:21px;background:#FED880"><span>80,39</span></div>
<div class="dc" style="left:1322px;top:489px;width:71px;height:21px;background:#FED17F"><span>86,77</span></div>
<div class="dc" style="left:1393px;top:489px;width:73px;height:21px;background:#FDC37C"><span>83,58</span></div>
<div class="yr" style="left:24px;top:510px;width:81px;height:20px"><span>2013</span></div>
<div class="dc" style="left:107px;top:510px;width:73px;height:21px;background:#FED580"><span>88,05</span></div>
<div class="dc" style="left:180px;top:510px;width:71px;height:21px;background:#FEDF82"><span>76,49</span></div>
<div class="dc" style="left:251px;top:510px;width:71px;height:21px;background:#FFE483"><span>70,53</span></div>
<div class="dc" style="left:322px;top:510px;width:70px;height:21px;background:#FEDC81"><span>80,39</span></div>
<div class="dc" style="left:392px;top:510px;width:71px;height:21px;background:#FEE082"><span>75,85</span></div>
<div class="dc" style="left:463px;top:510px;width:71px;height:21px;background:#FEDE82"><span>77,82</span></div>
<div class="dc" style="left:534px;top:510px;width:69px;height:21px;background:#FEDB81"><span>81,42</span></div>
<div class="dc" style="left:603px;top:510px;width:71px;height:21px;background:#FEDE82"><span>77,62</span></div>
<div class="dc" style="left:674px;top:510px;width:76px;height:21px;background:#FEDE82"><span>77,59</span></div>
<div class="dc" style="left:750px;top:510px;width:75px;height:21px;background:#FFE382"><span>72,27</span></div>
<div class="dc" style="left:825px;top:510px;width:69px;height:21px;background:#FEE182"><span>74,51</span></div>
<div class="dc" style="left:894px;top:510px;width:73px;height:21px;background:#FED07F"><span>93,36</span></div>
<div class="dc" style="left:967px;top:510px;width:71px;height:21px;background:#FEDA81"><span>78,36</span></div>
<div class="dc" style="left:1038px;top:510px;width:71px;height:21px;background:#FEDA81"><span>78,02</span></div>
<div class="dc" style="left:1109px;top:510px;width:71px;height:21px;background:#FEE082"><span>78,88</span></div>
<div class="dc" style="left:1180px;top:510px;width:71px;height:21px;background:#FEDF82"><span>80,05</span></div>
<div class="dc" style="left:1251px;top:510px;width:71px;height:21px;background:#FEDB81"><span>78,19</span></div>
<div class="dc" style="left:1322px;top:510px;width:71px;height:21px;background:#FED981"><span>79,46</span></div>
<div class="dc" style="left:1393px;top:510px;width:73px;height:21px;background:#FDCA7E"><span>78,83</span></div>
<div class="yr" style="left:24px;top:531px;width:81px;height:20px"><span>2014</span></div>
<div class="dc" style="left:107px;top:531px;width:73px;height:21px;background:#FEE182"><span>73,97</span></div>
<div class="dc" style="left:180px;top:531px;width:71px;height:21px;background:#FEDE82"><span>77,42</span></div>
<div class="dc" style="left:251px;top:531px;width:71px;height:21px;background:#FEEB84"><span>62,81</span></div>
<div class="dc" style="left:322px;top:531px;width:70px;height:21px;background:#FEE082"><span>75,37</span></div>
<div class="dc" style="left:392px;top:531px;width:71px;height:21px;background:#FEE182"><span>74,13</span></div>
<div class="dc" style="left:463px;top:531px;width:71px;height:21px;background:#FFE382"><span>72,01</span></div>
<div class="dc" style="left:534px;top:531px;width:69px;height:21px;background:#FED981"><span>83,11</span></div>
<div class="dc" style="left:603px;top:531px;width:71px;height:21px;background:#FEDA81"><span>82,38</span></div>
<div class="dc" style="left:674px;top:531px;width:76px;height:21px;background:#FEE182"><span>74,57</span></div>
<div class="dc" style="left:750px;top:531px;width:75px;height:21px;background:#FFE683"><span>68,87</span></div>
<div class="dc" style="left:825px;top:531px;width:69px;height:21px;background:#FEDB81"><span>81,02</span></div>
<div class="dc" style="left:894px;top:531px;width:73px;height:21px;background:#FEE082"><span>75,43</span></div>
<div class="dc" style="left:967px;top:531px;width:71px;height:21px;background:#FEE182"><span>71,40</span></div>
<div class="dc" style="left:1038px;top:531px;width:71px;height:21px;background:#FEDE82"><span>73,84</span></div>
<div class="dc" style="left:1109px;top:531px;width:71px;height:21px;background:#FEDF82"><span>80,02</span></div>
<div class="dc" style="left:1180px;top:531px;width:71px;height:21px;background:#FFE483"><span>75,11</span></div>
<div class="dc" style="left:1251px;top:531px;width:71px;height:21px;background:#FEE182"><span>72,62</span></div>
<div class="dc" style="left:1322px;top:531px;width:71px;height:21px;background:#FEDB81"><span>77,56</span></div>
<div class="dc" style="left:1393px;top:531px;width:73px;height:21px;background:#FECF7F"><span>75,09</span></div>
<div class="yr" style="left:24px;top:552px;width:81px;height:20px"><span>2015</span></div>
<div class="dc" style="left:107px;top:552px;width:73px;height:21px;background:#FEE182"><span>74,44</span></div>
<div class="dc" style="left:180px;top:552px;width:71px;height:21px;background:#E8E483"><span>57,13</span></div>
<div class="dc" style="left:251px;top:552px;width:71px;height:21px;background:#C5DA81"><span>48,20</span></div>
<div class="dc" style="left:322px;top:552px;width:70px;height:21px;background:#9ECF7E"><span>38,35</span></div>
<div class="dc" style="left:392px;top:552px;width:71px;height:21px;background:#A9D27F"><span>41,20</span></div>
<div class="dc" style="left:463px;top:552px;width:71px;height:21px;background:#BDD880"><span>46,22</span></div>
<div class="dc" style="left:534px;top:552px;width:69px;height:21px;background:#C9DB81"><span>49,31</span></div>
<div class="dc" style="left:603px;top:552px;width:71px;height:21px;background:#DEE182"><span>54,55</span></div>
<div class="dc" style="left:674px;top:552px;width:76px;height:21px;background:#DAE082"><span>53,62</span></div>
<div class="dc" style="left:750px;top:552px;width:75px;height:21px;background:#C0D980"><span>46,94</span></div>
<div class="dc" style="left:825px;top:552px;width:69px;height:21px;background:#BED880"><span>46,55</span></div>
<div class="dc" style="left:894px;top:552px;width:73px;height:21px;background:#E4E382"><span>56,07</span></div>
<div class="dc" style="left:967px;top:552px;width:71px;height:21px;background:#FAEA84"><span>59,92</span></div>
<div class="dc" style="left:1038px;top:552px;width:71px;height:21px;background:#B0D47F"><span>41,92</span></div>
<div class="dc" style="left:1109px;top:552px;width:71px;height:21px;background:#ABD37F"><span>52,49</span></div>
<div class="dc" style="left:1180px;top:552px;width:71px;height:21px;background:#9ECF7E"><span>49,85</span></div>
<div class="dc" style="left:1251px;top:552px;width:71px;height:21px;background:#ACD37F"><span>50,92</span></div>
<div class="dc" style="left:1322px;top:552px;width:71px;height:21px;background:#ADD37F"><span>51,17</span></div>
<div class="dc" style="left:1393px;top:552px;width:73px;height:21px;background:#D2DE81"><span>51,05</span></div>
<div class="yr" style="left:24px;top:573px;width:81px;height:20px"><span>2016</span></div>
<div class="dc" style="left:107px;top:573px;width:73px;height:21px;background:#CCDC81"><span>49,96</span></div>
<div class="dc" style="left:180px;top:573px;width:71px;height:21px;background:#92CC7E"><span>35,42</span></div>
<div class="dc" style="left:251px;top:573px;width:71px;height:21px;background:#9BCE7E"><span>37,63</span></div>
<div class="dc" style="left:322px;top:573px;width:70px;height:21px;background:#ACD37F"><span>41,79</span></div>
<div class="dc" style="left:392px;top:573px;width:71px;height:21px;background:#A6D17F"><span>40,27</span></div>
<div class="dc" style="left:463px;top:573px;width:71px;height:21px;background:#C6DB81"><span>48,54</span></div>
<div class="dc" style="left:534px;top:573px;width:69px;height:21px;background:#BBD780"><span>45,76</span></div>
<div class="dc" style="left:603px;top:573px;width:71px;height:21px;background:#DEE182"><span>54,54</span></div>
<div class="dc" style="left:674px;top:573px;width:76px;height:21px;background:#C1D980"><span>47,23</span></div>
<div class="dc" style="left:750px;top:573px;width:75px;height:21px;background:#BBD880"><span>45,86</span></div>
<div class="dc" style="left:825px;top:573px;width:69px;height:21px;background:#B9D780"><span>45,12</span></div>
<div class="dc" style="left:894px;top:573px;width:73px;height:21px;background:#FEEB84"><span>62,72</span></div>
<div class="dc" style="left:967px;top:573px;width:71px;height:21px;background:#ACD37F"><span>41,00</span></div>
<div class="dc" style="left:1038px;top:573px;width:71px;height:21px;background:#B6D680"><span>43,53</span></div>
<div class="dc" style="left:1109px;top:573px;width:71px;height:21px;background:#9ACE7E"><span>49,18</span></div>
<div class="dc" style="left:1180px;top:573px;width:71px;height:21px;background:#A5D17F"><span>51,23</span></div>
<div class="dc" style="left:1251px;top:573px;width:71px;height:21px;background:#72C27C"><span>42,27</span></div>
<div class="dc" style="left:1322px;top:573px;width:71px;height:21px;background:#A7D27F"><span>50,21</span></div>
<div class="dc" style="left:1393px;top:573px;width:73px;height:21px;background:#A1D07F"><span>46,24</span></div>
<div class="yr" style="left:24px;top:594px;width:81px;height:20px"><span>2017</span></div>
<div class="dc" style="left:107px;top:594px;width:73px;height:21px;background:#C5DA81"><span>48,40</span></div>
<div class="dc" style="left:180px;top:594px;width:71px;height:21px;background:#C0D980"><span>46,94</span></div>
<div class="dc" style="left:251px;top:594px;width:71px;height:21px;background:#A3D07F"><span>39,62</span></div>
<div class="dc" style="left:322px;top:594px;width:70px;height:21px;background:#A4D17F"><span>39,76</span></div>
<div class="dc" style="left:392px;top:594px;width:71px;height:21px;background:#AFD47F"><span>42,69</span></div>
<div class="dc" style="left:463px;top:594px;width:71px;height:21px;background:#ADD37F"><span>42,24</span></div>
<div class="dc" style="left:534px;top:594px;width:69px;height:21px;background:#C9DB81"><span>49,21</span></div>
<div class="dc" style="left:603px;top:594px;width:71px;height:21px;background:#C9DB81"><span>49,34</span></div>
<div class="dc" style="left:674px;top:594px;width:76px;height:21px;background:#D2DE81"><span>51,61</span></div>
<div class="dc" style="left:750px;top:594px;width:75px;height:21px;background:#B7D680"><span>44,79</span></div>
<div class="dc" style="left:825px;top:594px;width:69px;height:21px;background:#B8D780"><span>45,04</span></div>
<div class="dc" style="left:894px;top:594px;width:73px;height:21px;background:#A6D17F"><span>40,51</span></div>
<div class="dc" style="left:967px;top:594px;width:71px;height:21px;background:#BCD880"><span>44,99</span></div>
<div class="dc" style="left:1038px;top:594px;width:71px;height:21px;background:#AED47F"><span>41,56</span></div>
<div class="dc" style="left:1109px;top:594px;width:71px;height:21px;background:#9FCF7E"><span>50,06</span></div>
<div class="dc" style="left:1180px;top:594px;width:71px;height:21px;background:#7DC57C"><span>43,45</span></div>
<div class="dc" style="left:1251px;top:594px;width:71px;height:21px;background:#79C47C"><span>43,27</span></div>
<div class="dc" style="left:1322px;top:594px;width:71px;height:21px;background:#90CB7E"><span>46,75</span></div>
<div class="dc" style="left:1393px;top:594px;width:73px;height:21px;background:#95CC7E"><span>45,01</span></div>
<div class="yr" style="left:24px;top:615px;width:81px;height:20px"><span>2018</span></div>
<div class="dc" style="left:107px;top:615px;width:73px;height:21px;background:#C6DB81"><span>48,53</span></div>
<div class="dc" style="left:180px;top:615px;width:71px;height:21px;background:#BED880"><span>46,55</span></div>
<div class="dc" style="left:251px;top:615px;width:71px;height:21px;background:#A8D27F"><span>40,85</span></div>
<div class="dc" style="left:322px;top:615px;width:70px;height:21px;background:#C3DA81"><span>47,79</span></div>
<div class="dc" style="left:392px;top:615px;width:71px;height:21px;background:#A8D27F"><span>40,78</span></div>
<div class="dc" style="left:463px;top:615px;width:71px;height:21px;background:#A5D17F"><span>40,16</span></div>
<div class="dc" style="left:534px;top:615px;width:69px;height:21px;background:#B4D580"><span>43,83</span></div>
<div class="dc" style="left:603px;top:615px;width:71px;height:21px;background:#D3DE81"><span>51,73</span></div>
<div class="dc" style="left:674px;top:615px;width:76px;height:21px;background:#D2DE81"><span>51,67</span></div>
<div class="dc" style="left:750px;top:615px;width:75px;height:21px;background:#DDE182"><span>54,38</span></div>
<div class="dc" style="left:825px;top:615px;width:69px;height:21px;background:#DCE182"><span>54,16</span></div>
<div class="dc" style="left:894px;top:615px;width:73px;height:21px;background:#C7DB81"><span>48,71</span></div>
<div class="dc" style="left:967px;top:615px;width:71px;height:21px;background:#BED880"><span>45,31</span></div>
<div class="dc" style="left:1038px;top:615px;width:71px;height:21px;background:#B4D580"><span>42,91</span></div>
<div class="dc" style="left:1109px;top:615px;width:71px;height:21px;background:#9ACE7E"><span>49,08</span></div>
<div class="dc" style="left:1180px;top:615px;width:71px;height:21px;background:#ABD37F"><span>52,42</span></div>
<div class="dc" style="left:1251px;top:615px;width:71px;height:21px;background:#7EC67D"><span>44,11</span></div>
<div class="dc" style="left:1322px;top:615px;width:71px;height:21px;background:#ABD37F"><span>50,75</span></div>
<div class="dc" style="left:1393px;top:615px;width:73px;height:21px;background:#ADD37F"><span>47,43</span></div>
<div class="yr" style="left:24px;top:636px;width:81px;height:20px"><span>2019</span></div>
<div class="dc" style="left:107px;top:636px;width:73px;height:21px;background:#ABD37F"><span>41,59</span></div>
<div class="dc" style="left:180px;top:636px;width:71px;height:21px;background:#C7DB81"><span>48,86</span></div>
<div class="dc" style="left:251px;top:636px;width:71px;height:21px;background:#C0D980"><span>47,08</span></div>
<div class="dc" style="left:322px;top:636px;width:70px;height:21px;background:#88C97D"><span>32,73</span></div>
<div class="dc" style="left:392px;top:636px;width:71px;height:21px;background:#87C87D"><span>32,43</span></div>
<div class="dc" style="left:463px;top:636px;width:71px;height:21px;background:#9DCF7E"><span>38,03</span></div>
<div class="dc" style="left:534px;top:636px;width:69px;height:21px;background:#DAE082"><span>53,70</span></div>
<div class="dc" style="left:603px;top:636px;width:71px;height:21px;background:#D8E082"><span>53,20</span></div>
<div class="dc" style="left:674px;top:636px;width:76px;height:21px;background:#D4DF82"><span>52,15</span></div>
<div class="dc" style="left:750px;top:636px;width:75px;height:21px;background:#CEDD81"><span>50,49</span></div>
<div class="dc" style="left:825px;top:636px;width:69px;height:21px;background:#D4DF82"><span>52,08</span></div>
<div class="dc" style="left:894px;top:636px;width:73px;height:21px;background:#CCDC81"><span>50,03</span></div>
<div class="dc" style="left:967px;top:636px;width:71px;height:21px;background:#C0D980"><span>45,84</span></div>
<div class="dc" style="left:1038px;top:636px;width:71px;height:21px;background:#91CB7E"><span>34,39</span></div>
<div class="dc" style="left:1109px;top:636px;width:71px;height:21px;background:#AED47F"><span>53,02</span></div>
<div class="dc" style="left:1180px;top:636px;width:71px;height:21px;background:#A3D07F"><span>50,87</span></div>
<div class="dc" style="left:1251px;top:636px;width:71px;height:21px;background:#64BE7B"><span>40,12</span></div>
<div class="dc" style="left:1322px;top:636px;width:71px;height:21px;background:#B3D580"><span>51,94</span></div>
<div class="dc" style="left:1393px;top:636px;width:73px;height:21px;background:#9FCF7E"><span>46,03</span></div>
<div class="yr" style="left:24px;top:657px;width:81px;height:20px"><span>2020</span></div>
<div class="dc" style="left:107px;top:657px;width:73px;height:21px;background:#D8E082"><span>53,20</span></div>
<div class="dc" style="left:180px;top:657px;width:71px;height:21px;background:#CADC81"><span>49,45</span></div>
<div class="dc" style="left:251px;top:657px;width:71px;height:21px;background:#A0D07F"><span>38,92</span></div>
<div class="dc" style="left:322px;top:657px;width:70px;height:21px;background:#70C27C"><span>26,54</span></div>
<div class="dc" style="left:392px;top:657px;width:71px;height:21px;background:#7BC57C"><span>29,32</span></div>
<div class="dc" style="left:463px;top:657px;width:71px;height:21px;background:#AFD47F"><span>42,78</span></div>
<div class="dc" style="left:534px;top:657px;width:69px;height:21px;background:#B1D580"><span>43,27</span></div>
<div class="dc" style="left:603px;top:657px;width:71px;height:21px;background:#AAD27F"><span>41,40</span></div>
<div class="dc" style="left:674px;top:657px;width:76px;height:21px;background:#A9D27F"><span>41,18</span></div>
<div class="dc" style="left:750px;top:657px;width:75px;height:21px;background:#A6D17F"><span>40,49</span></div>
<div class="dc" style="left:825px;top:657px;width:69px;height:21px;background:#99CE7E"><span>37,07</span></div>
<div class="dc" style="left:894px;top:657px;width:73px;height:21px;background:#9CCF7E"><span>37,90</span></div>
<div class="dc" style="left:967px;top:657px;width:71px;height:21px;background:#C5DA81"><span>47,19</span></div>
<div class="dc" style="left:1038px;top:657px;width:71px;height:21px;background:#8AC97D"><span>32,88</span></div>
<div class="dc" style="left:1109px;top:657px;width:71px;height:21px;background:#75C37C"><span>41,95</span></div>
<div class="dc" style="left:1180px;top:657px;width:71px;height:21px;background:#63BE7B"><span>38,49</span></div>
<div class="dc" style="left:1251px;top:657px;width:71px;height:21px;background:#63BE7B"><span>40,04</span></div>
<div class="dc" style="left:1322px;top:657px;width:71px;height:21px;background:#64BE7B"><span>40,22</span></div>
<div class="dc" style="left:1393px;top:657px;width:73px;height:21px;background:#63BE7B"><span>40,13</span></div>
<div class="yr" style="left:24px;top:678px;width:81px;height:20px"><span>2021</span></div>
<div class="dc" style="left:107px;top:678px;width:73px;height:21px;background:#A6D17F"><span>40,28</span></div>
<div class="dc" style="left:180px;top:678px;width:71px;height:21px;background:#A7D27F"><span>40,54</span></div>
<div class="dc" style="left:251px;top:678px;width:71px;height:21px;background:#A9D27F"><span>41,11</span></div>
<div class="dc" style="left:322px;top:678px;width:70px;height:21px;background:#9ECF7E"><span>38,24</span></div>
<div class="dc" style="left:392px;top:678px;width:71px;height:21px;background:#B1D580"><span>43,30</span></div>
<div class="dc" style="left:463px;top:678px;width:71px;height:21px;background:#BFD980"><span>46,77</span></div>
<div class="dc" style="left:534px;top:678px;width:69px;height:21px;background:#F4E883"><span>60,28</span></div>
<div class="dc" style="left:603px;top:678px;width:71px;height:21px;background:#FFE984"><span>65,78</span></div>
<div class="dc" style="left:674px;top:678px;width:76px;height:21px;background:#F8E984"><span>61,33</span></div>
<div class="dc" style="left:750px;top:678px;width:75px;height:21px;background:#FFE282"><span>73,10</span></div>
<div class="dc" style="left:825px;top:678px;width:69px;height:21px;background:#FEDC81"><span>80,27</span></div>
<div class="dc" style="left:894px;top:678px;width:73px;height:21px;background:#FEE182"><span>74,88</span></div>
<div class="dc" style="left:967px;top:678px;width:71px;height:21px;background:#AAD37F"><span>40,64</span></div>
<div class="dc" style="left:1038px;top:678px;width:71px;height:21px;background:#B3D580"><span>42,77</span></div>
<div class="dc" style="left:1109px;top:678px;width:71px;height:21px;background:#DFE282"><span>62,46</span></div>
<div class="dc" style="left:1180px;top:678px;width:71px;height:21px;background:#FFE382"><span>76,08</span></div>
<div class="dc" style="left:1251px;top:678px;width:71px;height:21px;background:#6EC17C"><span>41,71</span></div>
<div class="dc" style="left:1322px;top:678px;width:71px;height:21px;background:#FFE483"><span>69,27</span></div>
<div class="dc" style="left:1393px;top:678px;width:73px;height:21px;background:#FFEB84"><span>55,49</span></div>
<div class="yr" style="left:24px;top:699px;width:81px;height:20px"><span>2022</span></div>
<div class="dc" style="left:107px;top:699px;width:73px;height:21px;background:#FED680"><span>87,27</span></div>
<div class="dc" style="left:180px;top:699px;width:71px;height:21px;background:#FDC87D"><span>103,15</span></div>
<div class="dc" style="left:251px;top:699px;width:71px;height:21px;background:#FDBE7B"><span>114,65</span></div>
<div class="dc" style="left:322px;top:699px;width:70px;height:21px;background:#FCB57A"><span>124,73</span></div>
<div class="dc" style="left:392px;top:699px;width:71px;height:21px;background:#FDBF7C"><span>112,94</span></div>
<div class="dc" style="left:463px;top:699px;width:71px;height:21px;background:#FBA977"><span>138,01</span></div>
<div class="dc" style="left:534px;top:699px;width:69px;height:21px;background:#FCAC78"><span>134,15</span></div>
<div class="dc" style="left:603px;top:699px;width:71px;height:21px;background:#FA8D72"><span>170,33</span></div>
<div class="dc" style="left:674px;top:699px;width:76px;height:21px;background:#F8696B"><span>210,84</span></div>
<div class="dc" style="left:750px;top:699px;width:75px;height:21px;background:#F97E6F"><span>186,97</span></div>
<div class="dc" style="left:825px;top:699px;width:69px;height:21px;background:#F9806F"><span>184,99</span></div>
<div class="dc" style="left:894px;top:699px;width:73px;height:21px;background:#F9736D"><span>199,86</span></div>
<div class="dc" style="left:967px;top:699px;width:71px;height:21px;background:#FDC27C"><span>101,69</span></div>
<div class="dc" style="left:1038px;top:699px;width:71px;height:21px;background:#FCAB78"><span>125,23</span></div>
<div class="dc" style="left:1109px;top:699px;width:71px;height:21px;background:#F97D6F"><span>171,77</span></div>
<div class="dc" style="left:1180px;top:699px;width:71px;height:21px;background:#F8696B"><span>190,61</span></div>
<div class="dc" style="left:1251px;top:699px;width:71px;height:21px;background:#FCB479"><span>113,46</span></div>
<div class="dc" style="left:1322px;top:699px;width:71px;height:21px;background:#F8696B"><span>181,19</span></div>
<div class="dc" style="left:1393px;top:699px;width:73px;height:21px;background:#F8696B"><span>147,33</span></div>
<div class="yr" style="left:24px;top:720px;width:81px;height:20px"><span>2023</span></div>
<div class="dc" style="left:107px;top:720px;width:73px;height:21px;background:#F98270"><span>182,96</span></div>
<div class="dc" style="left:180px;top:720px;width:71px;height:21px;background:#FB9F75"><span>148,92</span></div>
<div class="dc" style="left:251px;top:720px;width:71px;height:21px;background:#FDC07C"><span>112,18</span></div>
<div class="dc" style="left:322px;top:720px;width:70px;height:21px;background:#FED27F"><span>91,80</span></div>
<div class="dc" style="left:392px;top:720px;width:71px;height:21px;background:#FDCD7E"><span>97,12</span></div>
<div class="dc" style="left:463px;top:720px;width:71px;height:21px;background:#FFE583"><span>70,33</span></div>
<div class="dc" style="left:534px;top:720px;width:69px;height:21px;background:#FEE182"><span>74,95</span></div>
<div class="dc" style="left:603px;top:720px;width:71px;height:21px;background:#FED981"><span>83,60</span></div>
<div class="dc" style="left:674px;top:720px;width:76px;height:21px;background:#FEE182"><span>74,57</span></div>
<div class="dc" style="left:750px;top:720px;width:75px;height:21px;background:#FEDB81"><span>81,00</span></div>
<div class="dc" style="left:825px;top:720px;width:69px;height:21px;background:#FFE382"><span>72,37</span></div>
<div class="dc" style="left:894px;top:720px;width:73px;height:21px;background:#FFE483"><span>71,52</span></div>
<div class="dc" style="left:967px;top:720px;width:71px;height:21px;background:#FA9473"><span>148,02</span></div>
<div class="dc" style="left:1038px;top:720px;width:71px;height:21px;background:#FED27F"><span>86,42</span></div>
<div class="dc" style="left:1109px;top:720px;width:71px;height:21px;background:#FEE182"><span>77,70</span></div>
<div class="dc" style="left:1180px;top:720px;width:71px;height:21px;background:#FFE483"><span>74,96</span></div>
<div class="dc" style="left:1251px;top:720px;width:71px;height:21px;background:#FCB079"><span>117,22</span></div>
<div class="dc" style="left:1322px;top:720px;width:71px;height:21px;background:#FEDD81"><span>76,33</span></div>
<div class="dc" style="left:1393px;top:720px;width:73px;height:21px;background:#FCB179"><span>96,78</span></div>
<div class="yr" style="left:24px;top:741px;width:81px;height:20px"><span>2024</span></div>
<div class="dc" style="left:107px;top:741px;width:73px;height:21px;background:#FFE984"><span>64,84</span></div>
<div class="dc" style="left:180px;top:741px;width:71px;height:21px;background:#FFEA84"><span>63,85</span></div>
<div class="dc" style="left:251px;top:741px;width:71px;height:21px;background:#FFE683"><span>68,71</span></div>
<div class="dc" style="left:322px;top:741px;width:70px;height:21px;background:#DEE182"><span>54,66</span></div>
<div class="dc" style="left:392px;top:741px;width:71px;height:21px;background:#FFEB84"><span>63,59</span></div>
<div class="dc" style="left:463px;top:741px;width:71px;height:21px;background:#FFEA84"><span>64,58</span></div>
<div class="dc" style="left:534px;top:741px;width:69px;height:21px;background:#FEDD81"><span>78,82</span></div>
<div class="dc" style="left:603px;top:741px;width:71px;height:21px;background:#FEDF82"><span>76,76</span></div>
<div class="dc" style="left:674px;top:741px;width:76px;height:21px;background:#FFE483"><span>70,56</span></div>
<div class="dc" style="left:750px;top:741px;width:75px;height:21px;background:#FFE683"><span>68,36</span></div>
<div class="dc" style="left:825px;top:741px;width:69px;height:21px;background:#FFE383"><span>71,70</span></div>
<div class="dc" style="left:894px;top:741px;width:73px;height:21px;background:#FFE583"><span>70,14</span></div>
<div class="dc" style="left:967px;top:741px;width:71px;height:21px;background:#FFE683"><span>65,80</span></div>
<div class="dc" style="left:1038px;top:741px;width:71px;height:21px;background:#FEEB84"><span>60,94</span></div>
<div class="dc" style="left:1109px;top:741px;width:71px;height:21px;background:#FFE483"><span>75,38</span></div>
<div class="dc" style="left:1180px;top:741px;width:71px;height:21px;background:#FFE984"><span>70,07</span></div>
<div class="dc" style="left:1251px;top:741px;width:71px;height:21px;background:#FFEB84"><span>63,37</span></div>
<div class="dc" style="left:1322px;top:741px;width:71px;height:21px;background:#FEE182"><span>72,72</span></div>
<div class="dc" style="left:1393px;top:741px;width:73px;height:21px;background:#FED981"><span>68,05</span></div>
<div class="yr" style="left:24px;top:762px;width:81px;height:20px"><span>2025</span></div>
<div class="dc" style="left:107px;top:762px;width:73px;height:21px;background:#FFE483"><span>70,82</span></div>
<div class="dc" style="left:180px;top:762px;width:71px;height:21px;background:#FFE683"><span>68,75</span></div>
<div class="dc" style="left:251px;top:762px;width:71px;height:21px;background:#F0E783"><span>59,11</span></div>
<div class="dc" style="left:322px;top:762px;width:70px;height:21px;background:#FFEA84"><span>64,58</span></div>
<div class="dc" style="left:392px;top:762px;width:71px;height:21px;background:#FFEB84"><span>63,60</span></div>
<div class="dc" style="left:463px;top:762px;width:71px;height:21px;background:#E3E382"><span>55,99</span></div>
<div class="dc" style="left:534px;top:762px;width:69px;height:21px;background:#FEE182"><span>73,96</span></div>
<div class="dc" style="left:603px;top:762px;width:71px;height:21px;background:#FFE382"><span>72,20</span></div>
<div class="dc" style="left:674px;top:762px;width:76px;height:21px;background:#FFE883"><span>66,24</span></div>
<div class="dc" style="left:750px;top:762px;width:75px;height:21px;background:#FFE984"><span>65,67</span></div>
<div class="dc" style="left:825px;top:762px;width:69px;height:21px;background:#FFE883"><span>66,05</span></div>
<div class="dc" style="left:894px;top:762px;width:73px;height:21px;background:#FFE583"><span>69,84</span></div>
<div class="dc" style="left:967px;top:762px;width:71px;height:21px;background:#FFE683"><span>66,22</span></div>
<div class="dc" style="left:1038px;top:762px;width:71px;height:21px;background:#FFEB84"><span>61,39</span></div>
<div class="dc" style="left:1109px;top:762px;width:71px;height:21px;background:#FFE984"><span>70,80</span></div>
<div class="dc" style="left:1180px;top:762px;width:71px;height:21px;background:#F8E984"><span>67,19</span></div>
<div class="dc" style="left:1251px;top:762px;width:71px;height:21px;background:#FFEB84"><span>63,81</span></div>
<div class="dc" style="left:1322px;top:762px;width:71px;height:21px;background:#FFE583"><span>69,00</span></div>
<div class="dc" style="left:1393px;top:762px;width:73px;height:21px;background:#FEDC81"><span>66,40</span></div>
<div class="yr" style="left:24px;top:783px;width:81px;height:19px"><span>2026</span></div>
<div class="dc" style="left:107px;top:783px;width:73px;height:21px;background:#FFE783"><span>67,20</span></div>
<div class="dc" style="left:180px;top:783px;width:71px;height:21px;background:#C3DA81"><span>47,73</span></div>
<div class="dc" style="left:251px;top:783px;width:71px;height:21px;background:#98CD7E"><span>36,81</span></div>
<div class="dc" style="left:322px;top:783px;width:70px;height:21px;background:#63BE7B"><span>23,33</span></div>
<div class="dc" style="left:392px;top:783px;width:71px;height:21px;background:#FFFFFF"></div>
<div class="dc" style="left:463px;top:783px;width:71px;height:21px;background:#FFFFFF"></div>
<div class="dc" style="left:534px;top:783px;width:69px;height:21px;background:#FFFFFF"></div>
<div class="dc" style="left:603px;top:783px;width:71px;height:21px;background:#FFFFFF"></div>
<div class="dc" style="left:674px;top:783px;width:76px;height:21px;background:#FFFFFF"></div>
<div class="dc" style="left:750px;top:783px;width:75px;height:21px;background:#FFFFFF"></div>
<div class="dc" style="left:825px;top:783px;width:69px;height:21px;background:#FFFFFF"></div>
<div class="dc" style="left:894px;top:783px;width:73px;height:21px;background:#FFFFFF"></div>
<div class="dc" style="left:967px;top:783px;width:71px;height:21px;background:#D3DE81"><span>50,58</span></div>
<div class="dc" style="left:1038px;top:783px;width:71px;height:21px;background:#63BE7B"><span>23,33</span></div>
<div class="dc" style="left:1109px;top:783px;width:71px;height:21px;background:#FFFFFF"></div>
<div class="dc" style="left:1180px;top:783px;width:71px;height:21px;background:#FFFFFF"></div>
<div class="dc" style="left:1251px;top:783px;width:71px;height:21px;background:#7CC57C"><span>43,77</span></div>
<div class="dc" style="left:1322px;top:783px;width:71px;height:21px;background:#FFFFFF"></div>
<div class="dc" style="left:1393px;top:783px;width:73px;height:21px;background:#88C97D"><span>43,77</span></div>
<div class="hd" style="left:107px;top:509px;width:1357px"></div>
<div class="hd" style="left:107px;top:530px;width:1357px"></div>
<div class="hd" style="left:107px;top:551px;width:1357px"></div>
<div class="hd" style="left:107px;top:572px;width:1357px"></div>
<div class="hd" style="left:107px;top:593px;width:1357px"></div>
<div class="hd" style="left:107px;top:614px;width:1357px"></div>
<div class="hd" style="left:107px;top:635px;width:1357px"></div>
<div class="hd" style="left:107px;top:656px;width:1357px"></div>
<div class="hd" style="left:107px;top:677px;width:1357px"></div>
<div class="hd" style="left:107px;top:698px;width:1357px"></div>
<div class="hd" style="left:107px;top:719px;width:1357px"></div>
<div class="hd" style="left:107px;top:740px;width:1357px"></div>
<div class="hd" style="left:107px;top:761px;width:1357px"></div>
<div class="hd" style="left:107px;top:782px;width:1357px"></div>
<div class="vd" style="left:179px;top:489px;height:313px"></div>
<div class="vd" style="left:250px;top:489px;height:313px"></div>
<div class="vd" style="left:321px;top:489px;height:313px"></div>
<div class="vd" style="left:391px;top:489px;height:313px"></div>
<div class="vd" style="left:462px;top:489px;height:313px"></div>
<div class="vd" style="left:533px;top:489px;height:313px"></div>
<div class="vd" style="left:602px;top:489px;height:313px"></div>
<div class="vd" style="left:673px;top:489px;height:313px"></div>
<div class="vd" style="left:749px;top:489px;height:313px"></div>
<div class="vd" style="left:824px;top:489px;height:313px"></div>
<div class="vd" style="left:893px;top:489px;height:313px"></div>
<div class="vt" style="left:965px;top:489px;height:313px"></div>
<div class="vd" style="left:1037px;top:489px;height:313px"></div>
<div class="vd" style="left:1108px;top:489px;height:313px"></div>
<div class="vd" style="left:1179px;top:489px;height:313px"></div>
<div class="vt" style="left:1249px;top:489px;height:313px"></div>
<div class="vd" style="left:1321px;top:489px;height:313px"></div>
<div class="vt" style="left:1391px;top:489px;height:313px"></div>
<div class="vt" style="left:1464px;top:489px;height:313px"></div>
<div class="ht" style="left:22px;top:802px;width:1444px"></div>
</body></html>
